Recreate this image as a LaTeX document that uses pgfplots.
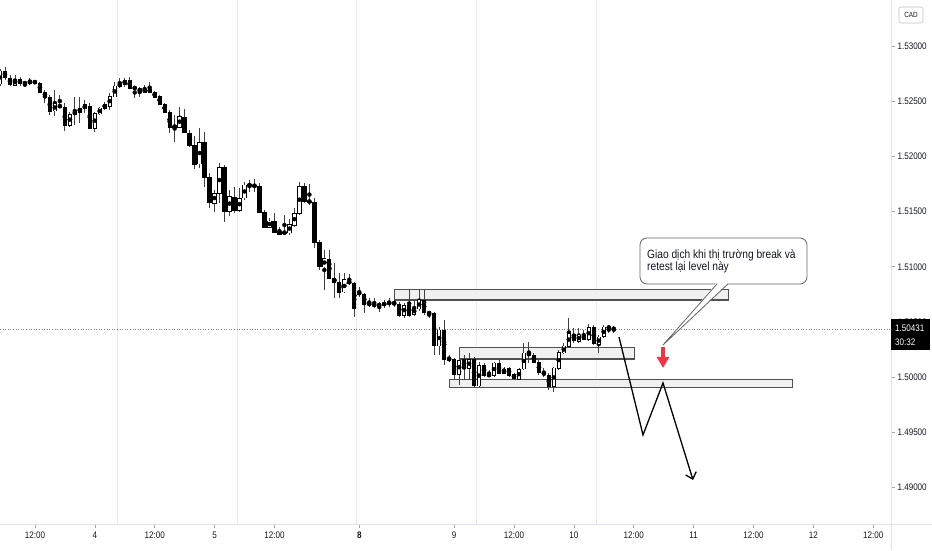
\documentclass[border=0pt]{standalone}
\usepackage{fontspec}
\setmainfont{Liberation Sans}[FakeStretch=0.85]
\usepackage{pgfplots}
\pgfplotsset{compat=1.18}
\usepackage{pgfplotstable}
\usetikzlibrary{arrows.meta}
\definecolor{tvgray}{HTML}{E0E3EB}
\definecolor{tvtext}{HTML}{131722}
\definecolor{tvred}{HTML}{F23645}
\definecolor{zonefill}{HTML}{F0F0F0}
\definecolor{zoneline}{HTML}{505050}

\pgfplotstableread{
i o h l c
0 1.52656 1.52792 1.52638 1.52774
1 1.52774 1.52810 1.52692 1.52710
2 1.52710 1.52737 1.52638 1.52647
3 1.52647 1.52737 1.52638 1.52701
4 1.52701 1.52719 1.52638 1.52656
5 1.52665 1.52674 1.52629 1.52665
6 1.52665 1.52710 1.52647 1.52683
7 1.52683 1.52692 1.52656 1.52665
8 1.52665 1.52674 1.52574 1.52583
9 1.52583 1.52601 1.52484 1.52538
10 1.52538 1.52556 1.52375 1.52411
11 1.52411 1.52601 1.52366 1.52475
12 1.52466 1.52556 1.52447 1.52447
13 1.52447 1.52484 1.52230 1.52284
14 1.52284 1.52402 1.52266 1.52384
15 1.52375 1.52538 1.52284 1.52411
16 1.52402 1.52538 1.52302 1.52438
17 1.52429 1.52511 1.52393 1.52466
18 1.52456 1.52484 1.52257 1.52257
19 1.52257 1.52402 1.52221 1.52393
20 1.52384 1.52447 1.52375 1.52438
21 1.52438 1.52493 1.52420 1.52475
22 1.52456 1.52574 1.52420 1.52547
23 1.52538 1.52674 1.52538 1.52638
24 1.52638 1.52710 1.52620 1.52656
25 1.52656 1.52710 1.52629 1.52692
26 1.52692 1.52719 1.52611 1.52620
27 1.52620 1.52629 1.52529 1.52620
28 1.52620 1.52629 1.52538 1.52583
29 1.52583 1.52647 1.52574 1.52611
30 1.52611 1.52674 1.52574 1.52583
31 1.52583 1.52592 1.52529 1.52538
32 1.52547 1.52556 1.52466 1.52475
33 1.52475 1.52484 1.52393 1.52402
34 1.52402 1.52420 1.52212 1.52266
35 1.52266 1.52375 1.52130 1.52275
36 1.52266 1.52447 1.52257 1.52366
37 1.52357 1.52429 1.52212 1.52212
38 1.52212 1.52239 1.52085 1.52103
39 1.52103 1.52185 1.51886 1.51931
40 1.51931 1.52257 1.51895 1.52130
41 1.52130 1.52221 1.51723 1.51813
42 1.51813 1.51849 1.51532 1.51578
43 1.51578 1.51695 1.51496 1.51668
44 1.51668 1.51940 1.51578 1.51904
45 1.51904 1.51922 1.51406 1.51505
46 1.51505 1.51695 1.51460 1.51641
47 1.51632 1.51723 1.51487 1.51514
48 1.51514 1.51714 1.51496 1.51623
49 1.51623 1.51768 1.51605 1.51741
50 1.51750 1.51786 1.51677 1.51732
51 1.51732 1.51795 1.51677 1.51732
52 1.51732 1.51759 1.51487 1.51496
53 1.51496 1.51514 1.51360 1.51360
54 1.51360 1.51442 1.51351 1.51415
55 1.51415 1.51487 1.51306 1.51315
56 1.51324 1.51360 1.51288 1.51297
57 1.51306 1.51469 1.51288 1.51315
58 1.51306 1.51433 1.51288 1.51387
59 1.51378 1.51532 1.51360 1.51487
60 1.51487 1.51768 1.51469 1.51732
61 1.51732 1.51759 1.51578 1.51587
62 1.51587 1.51750 1.51560 1.51596
63 1.51587 1.51623 1.51170 1.51224
64 1.51224 1.51242 1.50971 1.50998
65 1.50998 1.51152 1.50789 1.51079
66 1.51070 1.51152 1.50898 1.50898
67 1.50898 1.51034 1.50717 1.50862
68 1.50862 1.50943 1.50717 1.50771
69 1.50771 1.50943 1.50762 1.50880
70 1.50871 1.50934 1.50835 1.50853
71 1.50853 1.50862 1.50545 1.50626
72 1.50771 1.50817 1.50726 1.50753
73 1.50753 1.50762 1.50581 1.50654
74 1.50663 1.50717 1.50635 1.50663
75 1.50654 1.50717 1.50626 1.50654
76 1.50654 1.50681 1.50590 1.50654
77 1.50654 1.50699 1.50626 1.50672
78 1.50672 1.50717 1.50635 1.50672
79 1.50672 1.50699 1.50635 1.50672
80 1.50663 1.50681 1.50545 1.50563
81 1.50563 1.50672 1.50536 1.50654
82 1.50654 1.50789 1.50545 1.50563
83 1.50572 1.50699 1.50554 1.50626
84 1.50617 1.50789 1.50599 1.50699
85 1.50699 1.50789 1.50563 1.50581
86 1.50581 1.50599 1.50536 1.50581
87 1.50581 1.50590 1.50201 1.50291
88 1.50282 1.50454 1.50201 1.50427
89 1.50427 1.50518 1.50110 1.50164
90 1.50164 1.50201 1.50137 1.50164
91 1.50164 1.50173 1.49974 1.50028
92 1.50028 1.50173 1.49929 1.50155
93 1.50164 1.50201 1.49974 1.50083
94 1.50083 1.50219 1.49974 1.50164
95 1.50164 1.50182 1.49911 1.49920
96 1.49920 1.50137 1.49911 1.50110
97 1.50110 1.50128 1.50001 1.50019
98 1.50019 1.50065 1.50001 1.50019
99 1.50019 1.50137 1.50001 1.50128
100 1.50128 1.50155 1.50028 1.50037
101 1.50037 1.50092 1.50028 1.50074
102 1.50083 1.50092 1.50001 1.50019
103 1.50028 1.50037 1.49974 1.49983
104 1.49983 1.50083 1.49974 1.50074
105 1.50074 1.50309 1.50065 1.50219
106 1.50201 1.50318 1.50128 1.50219
107 1.50201 1.50219 1.50128 1.50137
108 1.50137 1.50155 1.50019 1.50037
109 1.50037 1.50083 1.50001 1.50028
110 1.50019 1.50037 1.49883 1.49911
111 1.49911 1.50092 1.49865 1.50083
112 1.50083 1.50246 1.50065 1.50228
113 1.50219 1.50309 1.50210 1.50282
114 1.50282 1.50536 1.50273 1.50400
115 1.50391 1.50445 1.50309 1.50327
116 1.50327 1.50445 1.50309 1.50382
117 1.50382 1.50427 1.50336 1.50345
118 1.50345 1.50481 1.50327 1.50454
119 1.50454 1.50472 1.50291 1.50300
120 1.50300 1.50382 1.50219 1.50364
121 1.50364 1.50472 1.50355 1.50454
122 1.50454 1.50463 1.50400 1.50445
123 1.50445 1.50463 1.50400 1.50431
}\candles

\begin{document}
\begin{tikzpicture}[x=1pt,y=1pt]
\path[use as bounding box] (0,-26) rectangle (932,524);
\begin{axis}[
  at={(0,0)}, anchor=south west,
  width=891pt, height=524pt, scale only axis,
  xmin=0, xmax=178.56, ymin=1.48669, ymax=1.53417,
  axis line style={draw=none},
  clip mode=individual,
  ytick={1.49,1.495,1.5,1.505,1.51,1.515,1.52,1.525,1.53},
  yticklabels={1.49000,1.49500,1.50000,1.50500,1.51000,1.51500,1.52000,1.52500,1.53000},
  ytick pos=right, yticklabel pos=right,
  xtick={7,19,31,43,55,72,91,103,115,127,139,151,163,175},
  xticklabels={12:00,4,12:00,5,12:00,\textbf{8},9,12:00,10,12:00,11,12:00,12,12:00},
  xtick pos=bottom,
  tick align=outside, major tick length=4pt,
  tick style={draw=black!35, line width=0.6pt},
  ticklabel style={font=\fontsize{9.5}{11}\selectfont, text=tvtext},
  yticklabel style={xshift=-1pt},
]
% day separators
\draw[black!13, densely dotted, line width=0.6pt] (23.5,1.48669) -- (23.5,1.53417);
\draw[black!13, densely dotted, line width=0.6pt] (47.5,1.48669) -- (47.5,1.53417);
\draw[black!13, densely dotted, line width=0.6pt] (71.5,1.48669) -- (71.5,1.53417);
\draw[black!13, densely dotted, line width=0.6pt] (95.5,1.48669) -- (95.5,1.53417);
\draw[black!13, densely dotted, line width=0.6pt] (119.5,1.48669) -- (119.5,1.53417);
% zones
\draw[zoneline, fill=zonefill, line width=0.9pt] (78.96,1.50798) rectangle (145.9,1.50699);
\draw[zoneline, line width=1.5pt] (78.96,1.50699) -- (145.9,1.50699);
\draw[zoneline, fill=zonefill, line width=0.9pt] (91.98,1.50273) rectangle (127.05,1.50164);
\draw[zoneline, line width=1.5pt] (91.98,1.50164) -- (127.05,1.50164);
\draw[zoneline, fill=zonefill, line width=0.9pt] (89.98,1.49983) rectangle (158.9,1.49902);
% current price line
\draw[black!50, dotted, line width=0.6pt] (0,1.50431) -- (178.56,1.50431);
% wicks
\addplot[only marks, mark=none, forget plot,
  error bars/.cd, y dir=both, y explicit, error mark=none,
  error bar style={draw=black!75, line width=0.9pt, solid}]
  table[x=i, y expr={(\thisrow{h}+\thisrow{l})/2}, y error expr={(\thisrow{h}-\thisrow{l})/2}] {\candles};
% bodies (outline / bear fill)
\addplot[only marks, mark=none, forget plot,
  error bars/.cd, y dir=both, y explicit, error mark=none,
  error bar style={draw=black, line width=4.3pt, solid}]
  table[x=i, y expr={(\thisrow{o}+\thisrow{c})/2}, y error expr={abs(\thisrow{o}-\thisrow{c})/2+0.00004}] {\candles};
% bull bodies white interior
\addplot[only marks, mark=none, forget plot,
  error bars/.cd, y dir=both, y explicit, error mark=none,
  error bar style={draw=white, line width=2.5pt, solid}]
  table[x=i, y expr={(\thisrow{o}+\thisrow{c})/2}, y error expr={max((\thisrow{c}-\thisrow{o})/2-0.00004,0)}] {\candles};
% projected path
\draw[black, line width=1.3pt, line join=miter, -{Straight Barb[length=6pt,width=11pt]}]
  (124.05,1.50364) -- (128.86,1.49476) -- (132.87,1.49947) -- (138.88,1.49068);
% red arrow
\draw[tvred, line width=4.5pt, -{Triangle[length=11pt,width=12pt]}] (132.87,1.50273) -- (132.87,1.50083);
% callout
\draw[black!60, fill=white, line width=0.8pt, rounded corners=7pt] (128.26,1.50844) rectangle (161.72,1.51261);
\fill[white] (143.69,1.50856) -- (145.89,1.50856) -- (132.87,1.50291) -- cycle;
\draw[black!60, line width=0.8pt] (143.69,1.50844) -- (132.87,1.50291) -- (145.89,1.50844);
\node[anchor=base west, inner sep=0pt, font=\fontsize{12}{14}\selectfont, text=tvtext] at (129.66,1.51079) {Giao dịch khi thị trường break và};
\node[anchor=base west, inner sep=0pt, font=\fontsize{12}{14}\selectfont, text=tvtext] at (129.66,1.50962) {retest lại level này};
\end{axis}
% axis borders
\draw[tvgray, line width=0.8pt] (891,-26) -- (891,524);
\draw[tvgray, line width=0.8pt] (0,0) -- (932,0);
% price tag
\fill[black] (891,174) rectangle (930,205);
\node[anchor=west, inner sep=0pt, text=white, font=\fontsize{9.5}{11}\selectfont] at (895,196) {1.50431};
\node[anchor=west, inner sep=0pt, text=white, font=\fontsize{9.5}{11}\selectfont] at (895,182) {30:32};
% currency box
\draw[black!25, rounded corners=2pt, line width=0.6pt] (899,501) rectangle (923,517);
\node[inner sep=0pt, text=tvtext, font=\fontsize{7.5}{9}\selectfont] at (911,509) {CAD};
\end{tikzpicture}
\end{document}
